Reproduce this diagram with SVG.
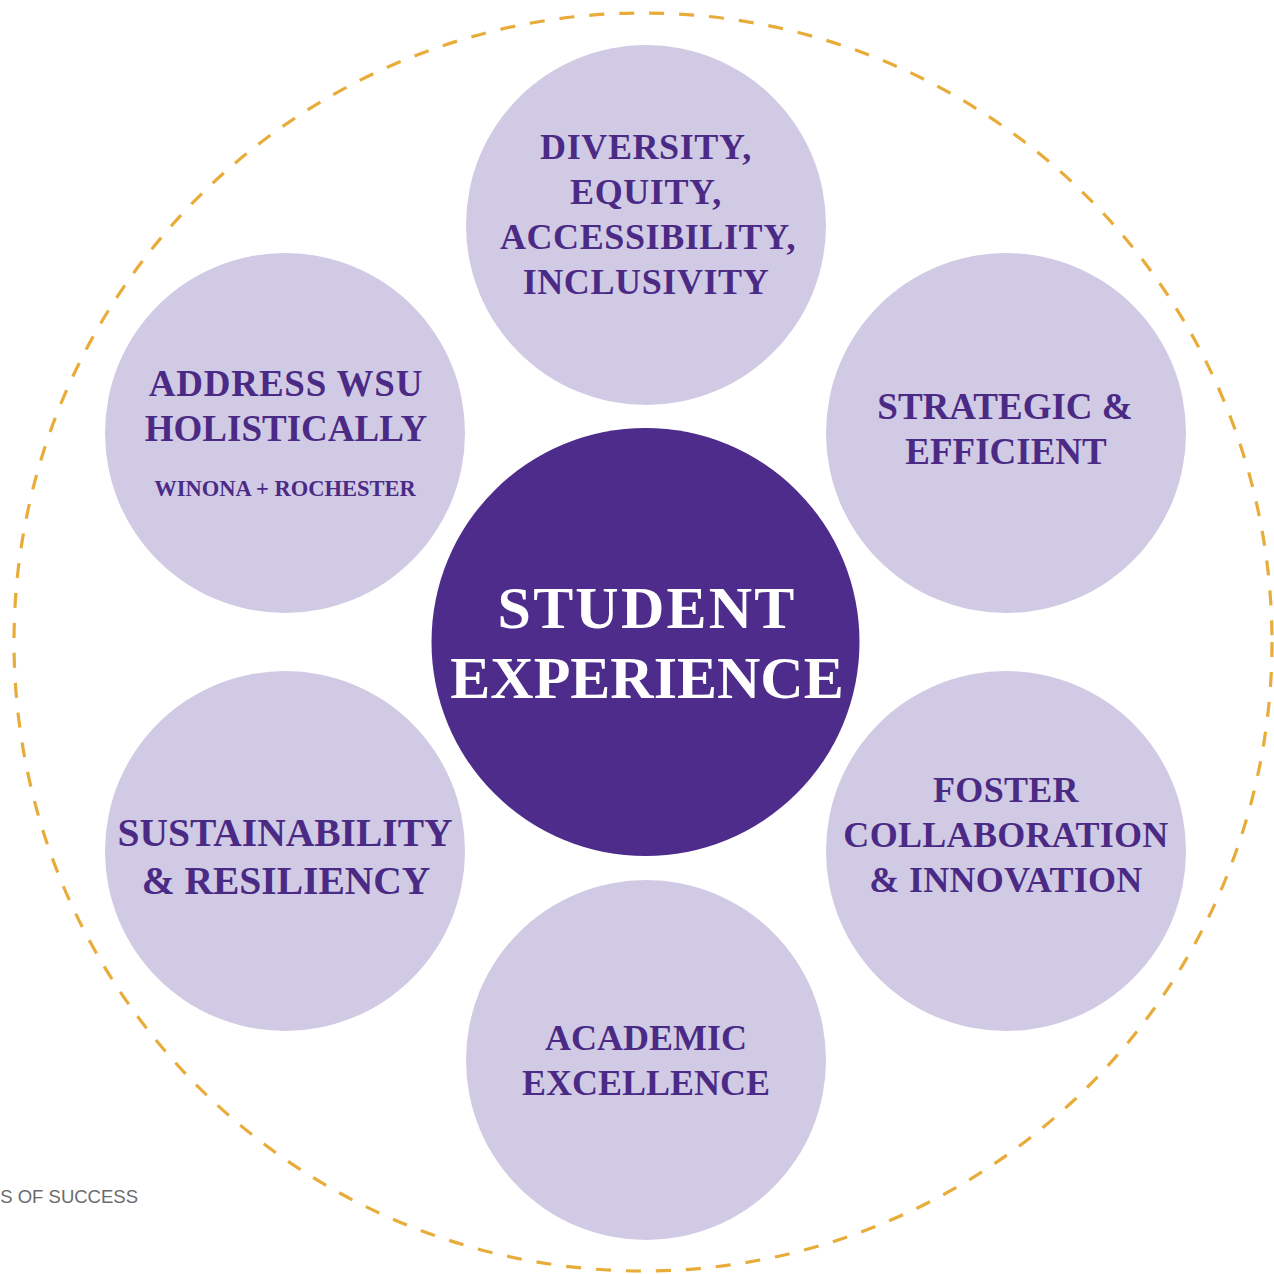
<svg xmlns="http://www.w3.org/2000/svg" width="1274" height="1274" viewBox="0 0 1274 1274">
<style>
.bg{fill:#ffffff}
.ring{fill:none;stroke:#E8AC3A;stroke-width:3.2;stroke-dasharray:15 15}
.pill{fill:#D1CAE4}
.core{fill:#4D2C8B}
.lbl{font-family:"Liberation Serif","Times New Roman",serif;font-weight:bold;fill:#4B2A86;text-anchor:middle}
.core-lbl{font-family:"Liberation Serif","Times New Roman",serif;font-weight:bold;fill:#ffffff;text-anchor:middle;font-size:60px}
.foot{font-family:"Liberation Sans",Arial,sans-serif;fill:#6b6b6b;font-size:18.5px;text-anchor:end}
</style>
<rect class="bg" x="0" y="0" width="1274" height="1274"/>
<g id="connectors">
<circle class="ring" cx="643" cy="642" r="629"/>
</g>
<g id="node-dei">
<circle class="pill" cx="646" cy="225" r="180"/>
<text class="lbl" font-size="36" letter-spacing="0.6"><tspan x="646" y="159">DIVERSITY,</tspan><tspan x="646" y="204">EQUITY,</tspan><tspan x="648" y="249">ACCESSIBILITY,</tspan><tspan x="646" y="294">INCLUSIVITY</tspan></text>
</g>
<g id="node-address">
<circle class="pill" cx="285" cy="433" r="180"/>
<text class="lbl" font-size="37"><tspan x="286" y="396" letter-spacing="0.8">ADDRESS WSU</tspan><tspan x="286" y="441">HOLISTICALLY</tspan></text>
<text class="lbl" font-size="22.5" x="285" y="496">WINONA + ROCHESTER</text>
</g>
<g id="node-strategic">
<circle class="pill" cx="1006" cy="433" r="180"/>
<text class="lbl" font-size="37"><tspan x="1005" y="419">STRATEGIC &amp;</tspan><tspan x="1006" y="464">EFFICIENT</tspan></text>
</g>
<g id="node-sustainability">
<circle class="pill" cx="285" cy="851" r="180"/>
<text class="lbl" font-size="39.5"><tspan x="285" y="846">SUSTAINABILITY</tspan><tspan x="286" y="894">&amp; RESILIENCY</tspan></text>
</g>
<g id="node-foster">
<circle class="pill" cx="1006" cy="851" r="180"/>
<text class="lbl" font-size="36" letter-spacing="0.3"><tspan x="1006" y="802">FOSTER</tspan><tspan x="1006" y="847">COLLABORATION</tspan><tspan x="1006" y="892">&amp; INNOVATION</tspan></text>
</g>
<g id="node-academic">
<circle class="pill" cx="646" cy="1060" r="180"/>
<text class="lbl" font-size="36"><tspan x="646" y="1050">ACADEMIC</tspan><tspan x="646" y="1095">EXCELLENCE</tspan></text>
</g>
<g id="node-student">
<circle class="core" cx="645.5" cy="642" r="214"/>
<text class="core-lbl"><tspan x="647" y="628" letter-spacing="2.2">STUDENT</tspan><tspan x="647" y="698">EXPERIENCE</tspan></text>
</g>
<text class="foot" x="138" y="1203">S OF SUCCESS</text>
</svg>
